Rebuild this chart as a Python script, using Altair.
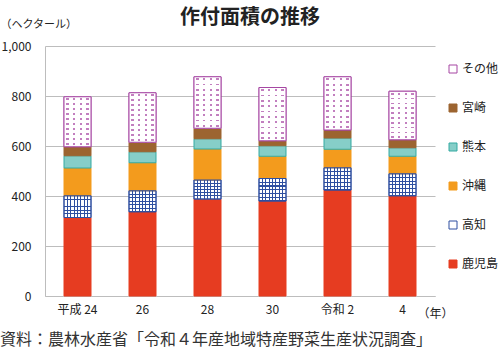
import altair as alt
import pandas as pd

years = ["平成 24", "26", "28", "30", "令和 2", "4"]
regions = ["鹿児島", "高知", "沖縄", "熊本", "宮崎", "その他"]
kagoshima = [314, 337, 388, 380, 424, 401]
kochi = [87, 84, 76, 90, 89, 88]
okinawa = [111, 112, 124, 89, 74, 70]
kumamoto = [49, 44, 41, 42, 45, 34]
miyazaki = [36, 38, 42, 20, 32, 32]
other = [200, 198, 206, 213, 213, 194]

series = [kagoshima, kochi, okinawa, kumamoto, miyazaki, other]
rows = []
for i, y in enumerate(years):
    lo = 0
    for r, s in zip(regions, series):
        rows.append({"year": y, "region": r, "lo": lo, "hi": lo + s[i], "val": s[i]})
        lo += s[i]
df = pd.DataFrame(rows)

legend_order = ["その他", "宮崎", "熊本", "沖縄", "高知", "鹿児島"]
fill_map = {"その他": "#ffffff", "宮崎": "#9c6430", "熊本": "#86cec8",
            "沖縄": "#f39b1d", "高知": "#ffffff", "鹿児島": "#e63c21"}
stroke_map = {"その他": "#a647a3", "宮崎": "#9c6430", "熊本": "#34aaa2",
              "沖縄": "#f39b1d", "高知": "#2e4fa0", "鹿児島": "#e63c21"}

FONT = "Noto Sans CJK JP"
BAR = 27


def band_stops(centers, width, on, off):
    stops = [{"offset": 0, "color": off}]
    for c in centers:
        a = max(0.0, c - width / 2)
        b = min(1.0, c + width / 2)
        stops += [{"offset": a, "color": off}, {"offset": a, "color": on},
                  {"offset": b, "color": on}, {"offset": b, "color": off}]
    stops.append({"offset": 1, "color": off})
    return stops


def grad(stops, vertical):
    if vertical:
        return {"gradient": "linear", "x1": 0, "x2": 1, "y1": 0, "y2": 0, "stops": stops}
    return {"gradient": "linear", "x1": 0, "x2": 0, "y1": 0, "y2": 1, "stops": stops}


CLEAR_B = "rgba(46,79,160,0)"
CLEAR_W = "rgba(255,255,255,0)"
BLUE = "#2e4fa0"

x_enc = alt.X("year:N", sort=years, title="（年）",
              scale=alt.Scale(paddingInner=0, paddingOuter=0),
              axis=alt.Axis(labelAngle=0, labelFontSize=12, labelFont=FONT, labelColor="#222",
                            ticks=False, domainColor="#bdbdbd", labelPadding=8,
                            titleFont=FONT, titleFontSize=12, titleFontWeight="normal",
                            titleColor="#222", titleX=372, titleY=17, titleAlign="left",
                            titleBaseline="middle"))
y_enc = alt.Y("lo:Q", scale=alt.Scale(domain=[0, 1000]), title="（ヘクタール）",
              axis=alt.Axis(values=[0, 200, 400, 600, 800, 1000], format=",.0f", ticks=False,
                            labelFontSize=12, labelFont=FONT, labelColor="#222", labelPadding=14,
                            gridColor="#bdbdbd", domainColor="#bdbdbd",
                            titleFont=FONT, titleFontSize=11, titleFontWeight="normal",
                            titleColor="#222", titleAngle=0, titleX=-45, titleY=-22,
                            titleAlign="left", titleBaseline="middle"))

base = alt.Chart(df).mark_bar(size=BAR, strokeWidth=1).encode(
    x=x_enc, y=y_enc, y2="hi:Q",
    fill=alt.Fill("region:N", scale=alt.Scale(domain=legend_order,
                                              range=[fill_map[r] for r in legend_order]),
                  legend=alt.Legend(title=None)),
    stroke=alt.Stroke("region:N", scale=alt.Scale(domain=legend_order,
                                                  range=[stroke_map[r] for r in legend_order]),
                      legend=alt.Legend(title=None)),
)


def overlay(region, fill, stroke=None):
    kw = {"size": BAR, "fill": fill, "strokeWidth": 1}
    if stroke:
        kw["stroke"] = stroke
    else:
        kw["strokeWidth"] = 0
    return alt.Chart(df).transform_filter(alt.datum.region == region).mark_bar(**kw).encode(
        x=alt.X("year:N", sort=years), y="lo:Q", y2="hi:Q")


# 高知: blue grid on white
k_cols = [k / 8 for k in range(9)]
k_rows = [k / 6 for k in range(7)]
kochi_v = overlay("高知", grad(band_stops(k_cols, 0.035, BLUE, CLEAR_B), True))
kochi_h = overlay("高知", grad(band_stops(k_rows, 0.045, BLUE, CLEAR_B), False), stroke=BLUE)

# その他: purple dots on white
o_cols = [(k + 0.5) / 4 for k in range(4)]
o_rows = [(k + 0.5) / 10 for k in range(10)]
other_p = overlay("その他", "#c27fbf")
other_v = overlay("その他", grad(band_stops(o_cols, 0.085, CLEAR_W, "#ffffff"), True))
other_h = overlay("その他", grad(band_stops(o_rows, 0.035, CLEAR_W, "#ffffff"), False),
                  stroke="#a647a3")

title = alt.Chart(pd.DataFrame({"t": ["作付面積の推移"]})).mark_text(
    font=FONT, fontSize=20, fontWeight="bold", color="#222", align="center", baseline="middle"
).encode(x=alt.value(205), y=alt.value(-28), text="t:N")

footer = alt.Chart(pd.DataFrame({"t": ["資料：農林水産省「令和４年産地域特産野菜生産状況調査」"]})).mark_text(
    font=FONT, fontSize=16, color="#333", align="left", baseline="middle"
).encode(x=alt.value(-45), y=alt.value(294), text="t:N")

chart = alt.layer(base, kochi_v, kochi_h, other_p, other_v, other_h, title, footer).properties(
    width=390, height=250,
    autosize=alt.AutoSizeParams(type="none"),
    padding={"left": 45, "top": 46, "right": 65, "bottom": 59},
).configure_view(stroke=None).configure_legend(
    orient="none", legendX=402, legendY=17, symbolType="square", symbolSize=64,
    symbolStrokeWidth=1, labelFont=FONT, labelFontSize=12, labelColor="#222",
    rowPadding=27, labelOffset=3
)

chart.save("out.html", embed_options={"renderer": "svg", "actions": False})
